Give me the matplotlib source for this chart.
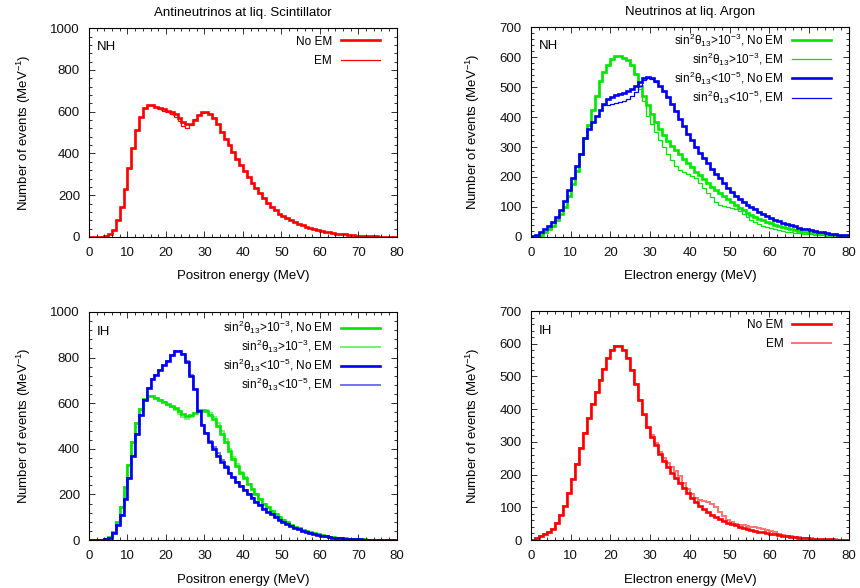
import numpy as np
import matplotlib
matplotlib.use("Agg")
import matplotlib.pyplot as plt
from matplotlib.ticker import MultipleLocator

plt.rcParams['font.family'] = ['Liberation Sans', 'DejaVu Sans']
plt.rcParams['mathtext.fontset'] = 'custom'
plt.rcParams['mathtext.rm'] = 'Liberation Sans'
plt.rcParams['mathtext.it'] = 'Liberation Sans'

# 1 MeV bins from 0 to 80 MeV
edges = np.arange(0, 81)

# top left: antineutrinos at liq. scintillator, NH
ls_nh_noem = [0, 0, 0, 2, 5, 13, 35, 80, 145, 232,
              330, 428, 512, 576, 616, 632, 632, 625, 618, 612,
              605, 600, 588, 570, 553, 540, 542, 560, 585, 597,
              600, 590, 570, 540, 505, 470, 440, 405, 375, 345,
              315, 285, 260, 235, 210, 185, 163, 145, 128, 112,
              100, 90, 80, 71, 63, 56, 49, 43, 38, 33,
              29, 25, 22, 19, 16, 14, 12, 10, 8, 7,
              6, 5, 4, 3, 3, 2, 2, 1, 1, 1]
ls_nh_em = [0, 0, 0, 2, 5, 13, 35, 80, 145, 232,
            330, 428, 512, 576, 616, 632, 632, 625, 612, 602,
            598, 590, 575, 555, 530, 520, 535, 565, 585, 595,
            598, 590, 570, 540, 505, 470, 440, 405, 375, 345,
            315, 285, 260, 235, 210, 185, 163, 145, 128, 112,
            100, 90, 80, 71, 63, 56, 49, 43, 38, 33,
            29, 25, 22, 19, 16, 14, 12, 10, 8, 7,
            6, 5, 4, 3, 3, 2, 2, 1, 1, 1]

# top right: neutrinos at liq. argon, NH
ar_nh_big_noem = [0, 3, 8, 15, 25, 38, 55, 75, 100, 135,
                  175, 220, 275, 330, 375, 425, 470, 520, 550, 575,
                  592, 603, 603, 598, 590, 575, 545, 505, 470, 440,
                  410, 385, 360, 340, 320, 305, 290, 275, 260, 247,
                  233, 218, 205, 192, 180, 168, 156, 145, 135, 125,
                  116, 106, 97, 89, 81, 74, 67, 61, 55, 50,
                  45, 40, 36, 32, 29, 26, 23, 20, 18, 16,
                  14, 12, 10, 9, 8, 6, 5, 4, 3, 2]
ar_nh_big_em = [0, 3, 8, 15, 25, 38, 55, 75, 100, 135,
                175, 220, 275, 330, 375, 425, 470, 520, 550, 575,
                592, 603, 603, 598, 590, 575, 545, 495, 455, 405,
                378, 350, 325, 300, 278, 258, 238, 224, 216, 210,
                204, 195, 180, 163, 147, 132, 118, 108, 103, 100,
                97, 92, 85, 76, 67, 58, 50, 44, 38, 33,
                29, 26, 23, 20, 18, 16, 14, 12, 11, 10,
                9, 8, 7, 6, 5, 5, 4, 3, 3, 2]
ar_nh_small_noem = [2, 8, 15, 25, 35, 50, 67, 90, 120, 155,
                    195, 235, 275, 330, 360, 385, 405, 425, 445, 460,
                    468, 473, 476, 480, 487, 495, 505, 518, 530, 533,
                    530, 520, 505, 488, 468, 445, 420, 395, 370, 345,
                    322, 300, 280, 262, 245, 228, 211, 195, 179, 164,
                    150, 138, 127, 117, 108, 100, 92, 84, 77, 70,
                    64, 58, 52, 47, 43, 39, 35, 31, 28, 25,
                    22, 20, 17, 15, 13, 11, 9, 8, 6, 5]
ar_nh_small_em = [2, 8, 15, 25, 35, 50, 67, 90, 120, 155,
                  195, 235, 275, 330, 360, 385, 405, 425, 440, 440,
                  445, 448, 450, 453, 460, 470, 485, 505, 522, 530,
                  528, 518, 505, 488, 468, 445, 420, 395, 370, 345,
                  322, 300, 280, 262, 245, 228, 211, 195, 179, 164,
                  150, 138, 127, 117, 108, 100, 92, 84, 77, 70,
                  64, 58, 52, 47, 43, 39, 35, 31, 28, 25,
                  22, 20, 17, 15, 13, 11, 9, 8, 6, 5]

# bottom left: antineutrinos at liq. scintillator, IH
ls_ih_big_noem = [0, 0, 0, 2, 5, 13, 35, 80, 145, 232,
                  330, 428, 512, 576, 616, 632, 630, 622, 615, 605,
                  597, 588, 578, 565, 553, 545, 548, 558, 568, 570,
                  565, 550, 530, 500, 465, 430, 390, 355, 325, 295,
                  270, 245, 222, 200, 180, 160, 143, 127, 113, 100,
                  88, 77, 68, 59, 52, 45, 39, 34, 29, 25,
                  21, 18, 15, 13, 11, 9, 8, 6, 5, 4,
                  4, 3, 2, 2, 1, 1, 1, 0, 0, 0]
ls_ih_big_em = [0, 0, 0, 2, 5, 13, 35, 80, 145, 232,
                330, 428, 512, 576, 616, 632, 630, 622, 615, 605,
                592, 582, 568, 552, 538, 530, 540, 555, 565, 570,
                568, 558, 540, 512, 478, 442, 400, 365, 333, 300,
                275, 245, 222, 200, 180, 160, 143, 127, 113, 100,
                88, 77, 68, 59, 52, 45, 39, 34, 29, 25,
                21, 18, 15, 13, 11, 9, 8, 6, 5, 4,
                4, 3, 2, 2, 1, 1, 1, 0, 0, 0]
ls_ih_small_noem = [0, 0, 0, 1, 3, 10, 30, 65, 110, 180,
                    270, 370, 465, 550, 615, 665, 705, 725, 745, 765,
                    785, 810, 828, 830, 815, 780, 720, 660, 565, 505,
                    470, 430, 400, 370, 340, 318, 295, 275, 255, 236,
                    218, 200, 183, 167, 152, 138, 125, 112, 100, 89,
                    79, 70, 61, 54, 47, 41, 35, 30, 26, 22,
                    19, 16, 13, 11, 9, 8, 6, 5, 4, 3,
                    3, 2, 2, 1, 1, 1, 0, 0, 0, 0]
ls_ih_small_em = [0, 0, 0, 1, 3, 10, 30, 65, 110, 180,
                  270, 370, 465, 550, 615, 665, 705, 725, 745, 765,
                  785, 810, 828, 830, 815, 785, 725, 660, 565, 505,
                  470, 435, 408, 380, 350, 325, 295, 275, 255, 236,
                  218, 200, 183, 167, 152, 138, 125, 112, 100, 89,
                  79, 70, 61, 54, 47, 41, 35, 30, 26, 22,
                  19, 16, 13, 11, 9, 8, 6, 5, 4, 3,
                  3, 2, 2, 1, 1, 1, 0, 0, 0, 0]

# bottom right: neutrinos at liq. argon, IH
ar_ih_noem = [0, 5, 12, 18, 25, 35, 52, 75, 105, 145,
              187, 233, 281, 327, 374, 415, 454, 489, 524, 555,
              581, 593, 593, 581, 555, 520, 476, 428, 386, 347,
              316, 290, 263, 243, 222, 205, 189, 174, 159, 143,
              128, 115, 105, 95, 85, 77, 70, 64, 58, 53,
              49, 45, 41, 38, 35, 32, 29, 26, 23, 21,
              19, 17, 15, 13, 11, 10, 8, 7, 6, 5,
              4, 4, 3, 3, 2, 2, 1, 1, 1, 1]
ar_ih_em = [0, 5, 12, 18, 25, 35, 52, 75, 105, 145,
            187, 233, 281, 327, 374, 415, 454, 489, 524, 555,
            581, 593, 593, 581, 555, 520, 476, 428, 382, 342,
            322, 296, 270, 252, 235, 222, 210, 195, 175, 155,
            140, 128, 123, 120, 116, 110, 100, 86, 72, 62,
            55, 50, 47, 45, 43, 41, 39, 37, 34, 31,
            27, 23, 19, 16, 13, 11, 9, 8, 7, 6,
            5, 4, 4, 3, 3, 2, 2, 1, 1, 1]

big_label = 'sin$^2$θ$_{13}$>10$^{-3}$'
small_label = 'sin$^2$θ$_{13}$<10$^{-5}$'

RED = '#ff0000'
GREEN = '#00e600'
BLUE = '#0000ee'
THICK = 1.9
THIN = 0.9


def style_axes(ax, ymax, ystep, yminor, xlabel, tag):
    ax.set_xlim(0, 80)
    ax.set_ylim(0, ymax)
    ax.xaxis.set_major_locator(MultipleLocator(10))
    ax.xaxis.set_minor_locator(MultipleLocator(2))
    ax.yaxis.set_major_locator(MultipleLocator(ystep))
    ax.yaxis.set_minor_locator(MultipleLocator(yminor))
    ax.tick_params(which='both', direction='in', top=True, right=True,
                   labelsize=9.5, colors='#111111', width=0.6)
    ax.tick_params(which='major', length=4.5)
    ax.tick_params(which='minor', length=2.5)
    ax.tick_params(axis='x', which='major', pad=7)
    ax.tick_params(axis='y', which='major', pad=6.5)
    for s in ax.spines.values():
        s.set_linewidth(0.8)
    ax.set_xlabel(xlabel, fontsize=9.5, labelpad=8.5)
    ax.set_ylabel('Number of events (MeV$^{-1}$)', fontsize=9.5, labelpad=12.5)
    ax.text(0.025, 0.94, tag, transform=ax.transAxes, fontsize=9.5,
            ha='left', va='top')


def add_legend(ax, spacing, top):
    ax.legend(loc='upper right', bbox_to_anchor=(0.945, top), frameon=False,
              markerfirst=False, fontsize=8.5, handlelength=3.3,
              handletextpad=0.75, labelspacing=spacing, borderpad=0,
              borderaxespad=0)


fig = plt.figure(figsize=(8.6, 5.88), dpi=100)
ax1 = fig.add_axes([0.1035, 0.597, 0.358, 0.355])
ax2 = fig.add_axes([0.6174, 0.597, 0.3696, 0.357])
ax3 = fig.add_axes([0.1035, 0.0816, 0.358, 0.388])
ax4 = fig.add_axes([0.6174, 0.0816, 0.3696, 0.3894])

# top left
ax1.stairs(ls_nh_noem, edges, baseline=None, color=RED, lw=THICK, label='No EM')
ax1.stairs(ls_nh_em, edges, baseline=None, color=RED, lw=THIN, label='EM')
style_axes(ax1, 1000, 200, 40, 'Positron energy (MeV)', 'NH')
ax1.set_title('Antineutrinos at liq. Scintillator', fontsize=9.5, pad=8.5)
add_legend(ax1, 0.62, 0.965)

# top right
ax2.stairs(ar_nh_big_noem, edges, baseline=None, color=GREEN, lw=THICK,
           label=big_label + ', No EM')
ax2.stairs(ar_nh_big_em, edges, baseline=None, color=GREEN, lw=THIN,
           label=big_label + ', EM')
ax2.stairs(ar_nh_small_noem, edges, baseline=None, color=BLUE, lw=THICK,
           label=small_label + ', No EM')
ax2.stairs(ar_nh_small_em, edges, baseline=None, color=BLUE, lw=THIN,
           label=small_label + ', EM')
style_axes(ax2, 700, 100, 20, 'Electron energy (MeV)', 'NH')
ax2.set_title('Neutrinos at liq. Argon', fontsize=9.5, pad=8.5)
add_legend(ax2, 0.15, 0.98)

# bottom left
ax3.stairs(ls_ih_big_noem, edges, baseline=None, color=GREEN, lw=THICK,
           label=big_label + ', No EM')
ax3.stairs(ls_ih_big_em, edges, baseline=None, color=GREEN, lw=1.4, alpha=0.55,
           label=big_label + ', EM')
ax3.stairs(ls_ih_small_noem, edges, baseline=None, color=BLUE, lw=THICK,
           label=small_label + ', No EM')
ax3.stairs(ls_ih_small_em, edges, baseline=None, color=BLUE, lw=1.4, alpha=0.55,
           label=small_label + ', EM')
style_axes(ax3, 1000, 200, 40, 'Positron energy (MeV)', 'IH')
add_legend(ax3, 0.15, 0.97)

# bottom right
ax4.stairs(ar_ih_noem, edges, baseline=None, color=RED, lw=THICK, label='No EM')
ax4.stairs(ar_ih_em, edges, baseline=None, color=RED, lw=1.4, alpha=0.55,
           label='EM')
style_axes(ax4, 700, 100, 20, 'Electron energy (MeV)', 'IH')
add_legend(ax4, 0.62, 0.965)

fig.savefig('out.png', dpi=100)
